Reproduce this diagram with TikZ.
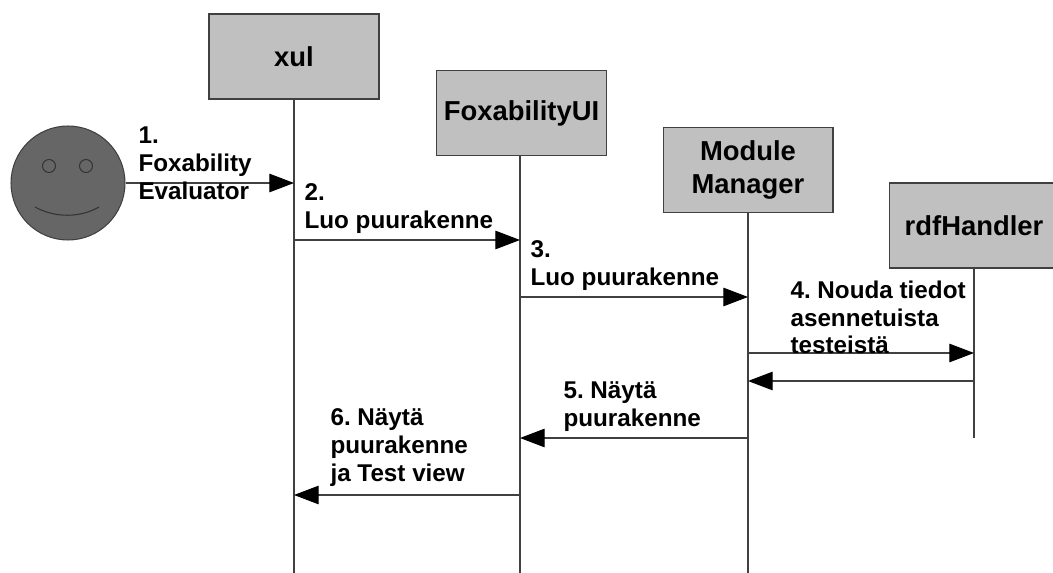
\documentclass[tikz,border=0pt]{standalone}
\usepackage{fontspec}
\setmainfont{Liberation Sans}
\usetikzlibrary{arrows.meta}
\definecolor{linegray}{HTML}{404040}
\definecolor{boxgray}{HTML}{C0C0C0}
\definecolor{actorgray}{HTML}{666666}

\begin{document}
\frenchspacing
\begin{tikzpicture}[x=0.02cm, y=-0.02cm,
                    line width=0.6pt,
                    box/.style={draw=linegray, fill=boxgray, minimum width=3.4cm, minimum height=1.7cm,
                                inner sep=0pt, align=center, text=black, font=\bfseries\fontsize{15.6}{18.7}\selectfont},
                    eye/.style={circle, draw=black!80, minimum size=0.26cm, inner sep=0pt},
                    msg/.style={draw=linegray, -{Triangle[length=14pt, width=10.5pt, color=black]}},
                    lbl/.style={anchor=north west, inner sep=0pt, align=left, text=black,
                                font=\bfseries\fontsize{13.8}{15.9}\selectfont}
                    ]
    \useasboundingbox (0,0) rectangle (1053,573);

    \def\Xx{294}   \def\Fx{520}   \def\Mx{748}   \def\Rx{974}

    \node[box] (xul) at (\Xx,56.5) {xul};
    \node[box] (fox) at (521.5,113) {FoxabilityUI};
    \node[box] (mod) at (748,170) {Module\\Manager};
    \node[box] (rdf) at (974,225.5) {rdfHandler};

    \node[circle, draw=linegray, fill=actorgray, minimum size=2.28cm, inner sep=0pt] (actor) at (68,183) {};
    \node[eye] (eyeL) at (49,166) {};
    \node[eye] (eyeR) at (86,166) {};
    \draw[black!80] (35,207) .. controls (55,218) and (80,218) .. (99,207);

    \coordinate (X0) at (\Xx,573);
    \coordinate (F0) at (\Fx,573);
    \coordinate (M0) at (\Mx,573);
    \coordinate (R0) at (\Rx,438);

    \draw[linegray] (xul.south -| X0) -- (X0);
    \draw[linegray] (fox.south -| F0) -- (F0);
    \draw[linegray] (mod.south -| M0) -- (M0);
    \draw[linegray] (rdf.south -| R0) -- (R0);

    \coordinate (A1) at (\Xx,183);
    \coordinate (X2) at (\Xx,240);   \coordinate (F2) at (\Fx,240);
    \coordinate (F3) at (\Fx,297);   \coordinate (M3) at (\Mx,297);
    \coordinate (M4) at (\Mx,353);   \coordinate (R4) at (\Rx,353);
    \coordinate (R5) at (\Rx,381);   \coordinate (M5) at (\Mx,381);
    \coordinate (M6) at (\Mx,438);   \coordinate (F6) at (\Fx,438);
    \coordinate (F7) at (\Fx,495);   \coordinate (X7) at (\Xx,495);

    \draw[msg] (actor.east |- A1) -- (A1);
    \draw[msg] (X2) -- (F2);
    \draw[msg] (F3) -- (M3);
    \draw[msg] (M4) -- (R4);
    \draw[msg] (R5) -- (M5);
    \draw[msg] (M6) -- (F6);
    \draw[msg] (F7) -- (X7);

    \node[lbl] (l1) at (138,126) {1.\\Foxability\\Evaluator};
    \node[lbl] (l2) at (304,183) {2.\\Luo puurakenne};
    \node[lbl] (l3) at (530,240) {3.\\Luo puurakenne};
    \node[lbl] (l4) at (790,280) {4. Nouda tiedot\\asennetuista\\testeistä};
    \node[lbl] (l5) at (563,381) {5. Näytä\\puurakenne};
    \node[lbl] (l6) at (330,408) {6. Näytä\\puurakenne\\ja Test view};
\end{tikzpicture}
\end{document}
